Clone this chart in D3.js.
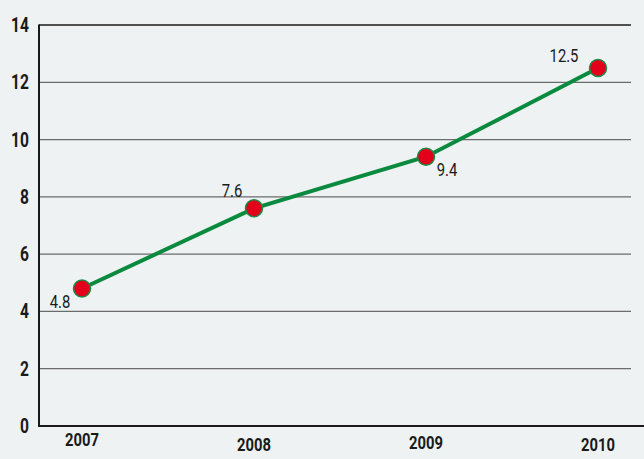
<!DOCTYPE html>
<html>
<head>
<meta charset="utf-8">
<script src="https://cdn.jsdelivr.net/npm/d3@7"></script>
<style>
  html, body { margin: 0; padding: 0; background: #eef2f3; }
  svg { display: block; }
</style>
</head>
<body>
<svg id="chart" width="644" height="459"></svg>
<script>
// Series
const years = ["2007", "2008", "2009", "2010"];
const values = [4.8, 7.6, 9.4, 12.5];
const yTicks = [0, 2, 4, 6, 8, 10, 12, 14];
// Label placement relative to each point: [dx, dy]
const labelOffsets = [[-22, 19], [-22, -11], [21, 19], [-34, -6]];
const yearDy = [20, 25, 23, 25];

const W = 644, H = 459;
const margin = { left: 39, right: 13, top: 25, bottom: 33 };
const svg = d3.select("#chart");
const font = "Roboto, 'Liberation Sans', sans-serif";
const squeeze = 0.78; // horizontal condensing of all text

const x = d3.scalePoint().domain(years).range([82, 598]);
const y = d3.scaleLinear().domain([0, 14]).range([H - margin.bottom, margin.top]);

// Draws condensed text at (px, py)
function label(g, px, py, anchor) {
  return g.append("text")
    .attr("transform", `translate(${px},${py}) scale(${squeeze},1)`)
    .attr("text-anchor", anchor)
    .attr("font-family", font)
    .attr("fill", "#1a1a1a");
}

// Horizontal gridlines
svg.append("g").selectAll("line")
  .data(yTicks.filter(t => t > 0))
  .join("line")
  .attr("x1", margin.left).attr("x2", W - margin.right)
  .attr("y1", d => y(d)).attr("y2", d => y(d))
  .attr("stroke", d => d === 14 ? "#1a1a1a" : "#6b6b6b")
  .attr("stroke-width", 1.3);

// Y axis labels
const gy = svg.append("g");
yTicks.forEach(t => {
  label(gy, margin.left - 10, y(t) + 7, "end")
    .attr("font-size", 20).attr("font-weight", "bold")
    .text(d3.format("d")(t));
});

// Axis lines
svg.append("line")
  .attr("x1", margin.left).attr("x2", margin.left)
  .attr("y1", y(14) - 0.5).attr("y2", y(0) + 1)
  .attr("stroke", "#1a1a1a").attr("stroke-width", 2);
svg.append("line")
  .attr("x1", margin.left - 1).attr("x2", W)
  .attr("y1", y(0)).attr("y2", y(0))
  .attr("stroke", "#1a1a1a").attr("stroke-width", 2);

// Year labels
const gx = svg.append("g");
years.forEach((yr, i) => {
  label(gx, x(yr), y(0) + yearDy[i], "middle")
    .attr("font-size", 19).attr("font-weight", "bold")
    .text(yr);
});

// Line
const line = d3.line().x((d, i) => x(years[i])).y(d => y(d));
svg.append("path")
  .datum(values)
  .attr("d", line)
  .attr("fill", "none")
  .attr("stroke", "#0a8a3e")
  .attr("stroke-width", 4);

// Points
svg.append("g").selectAll("circle")
  .data(values)
  .join("circle")
  .attr("cx", (d, i) => x(years[i]))
  .attr("cy", d => y(d))
  .attr("r", 8.5)
  .attr("fill", "#e2001a")
  .attr("stroke", "#1b8a45")
  .attr("stroke-width", 1.5);

// Value labels
const gv = svg.append("g");
values.forEach((v, i) => {
  label(gv, x(years[i]) + labelOffsets[i][0], y(v) + labelOffsets[i][1], "middle")
    .attr("font-size", 19)
    .text(d3.format(".1f")(v));
});
</script>
</body>
</html>
